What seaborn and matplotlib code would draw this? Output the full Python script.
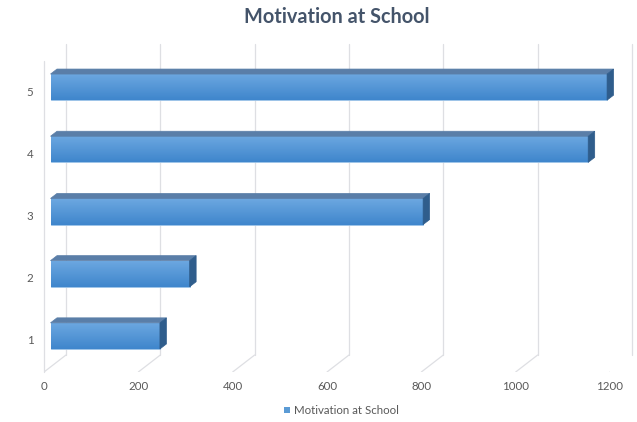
import numpy as np
import pandas as pd
import matplotlib
matplotlib.use("Agg")
import matplotlib.pyplot as plt
import matplotlib.transforms as mtransforms
from matplotlib.patches import Polygon, Rectangle
from matplotlib.colors import LinearSegmentedColormap
import seaborn as sns

# Survey data
levels = ["1", "2", "3", "4", "5"]
counts = [232, 295, 790, 1140, 1180]
series_name = "Motivation at School"
x_ticks = [0, 200, 400, 600, 800, 1000, 1200]

sns.set_theme(style="white")
plt.rcParams["font.family"] = ["Lato", "DejaVu Sans"]

W, H, DPI = 637, 422, 100
fig = plt.figure(figsize=(W / DPI, H / DPI), dpi=DPI)
fig.patch.set_facecolor("white")

# Front plane of the 3-D box, in pixels
left, right, top, bottom = 44, 610, 61, 372
ax = fig.add_axes([left / W, (H - bottom) / H, (right - left) / W, (bottom - top) / H])
ax.set_facecolor("none")

# Depth offsets (pixels): back wall, bar front face, bar depth
BACK_DX, BACK_DY = 22, 17
BAR_DX, BAR_DY = 6.5, 5.0
DEPTH_DX, DEPTH_DY = 6.5, 5.0

df = pd.DataFrame({"level": levels, "count": counts})
order = levels[::-1]
sns.barplot(data=df, x="count", y="level", order=order, orient="h",
            color="#5B9BD5", width=0.42, saturation=1, ax=ax, zorder=3)

ax.set_xlim(0, 1200)
ax.set_ylim(len(levels) - 0.5, -0.5)
for s in ax.spines.values():
    s.set_visible(False)
ax.set_xlabel("")
ax.set_ylabel("")
ax.tick_params(length=0)
ax.set_xticks([])
ax.set_yticks([])

back = mtransforms.offset_copy(ax.transData, fig=fig, x=BACK_DX, y=BACK_DY, units="dots")
barT = mtransforms.offset_copy(ax.transData, fig=fig, x=BAR_DX, y=BAR_DY, units="dots")

grid_col = "#DEDFE3"
y_lo, y_hi = len(levels) - 0.5, -0.5
# Back-wall gridlines and floor diagonals
for t in x_ticks:
    ax.plot([t, t], [y_lo, y_hi], color=grid_col, lw=0.9, transform=back, zorder=1, clip_on=False)
    p0 = ax.transData.transform((t, y_lo))
    p1 = back.transform((t, y_lo))
    ax.add_line(plt.Line2D([p0[0], p1[0]], [p0[1], p1[1]], color=grid_col, lw=0.9,
                           transform=None, zorder=1))
# Left wall edge
ax.plot([0, 0], [y_lo, y_hi], color=grid_col, lw=0.9, zorder=1, clip_on=False)

# Tick labels
tick_col = "#595959"
for t in x_ticks:
    px, py = ax.transData.transform((t, y_lo))
    fig.text(px / W, (py - 14) / H, f"{t}", ha="center", va="center",
             fontsize=8.3, color=tick_col)
for i, lab in enumerate(order):
    px, py = ax.transData.transform((0, i))
    fig.text((px - 14) / W, py / H, lab, ha="center", va="center",
             fontsize=8.3, color=tick_col)

# 3-D bar faces
grad = LinearSegmentedColormap.from_list("bar", ["#3F86CC", "#6DA8E1"])
gimg = np.linspace(0, 1, 64).reshape(-1, 1)
for patch in list(ax.patches):
    x0, y0 = patch.get_x(), patch.get_y()
    w, h = patch.get_width(), patch.get_height()
    patch.set_transform(barT)
    patch.set_edgecolor("#9CC3E8")
    patch.set_linewidth(0.6)
    im = ax.imshow(gimg, cmap=grad, extent=[x0, x0 + w, y0 + h, y0], origin="lower",
                   aspect="auto", transform=barT, zorder=3.5, interpolation="bilinear")
    im.set_clip_path(patch)
    # front-face corners in display pixels
    tl = barT.transform((x0, y0))
    tr = barT.transform((x0 + w, y0))
    br = barT.transform((x0 + w, y0 + h))
    d = np.array([DEPTH_DX, DEPTH_DY])
    top_face = Polygon([tl, tr, tr + d, tl + d], closed=True, transform=None,
                       facecolor="#5A7EA8", edgecolor="#5A7EA8", lw=0.5, zorder=4)
    side_face = Polygon([tr, br, br + d, tr + d], closed=True, transform=None,
                        facecolor="#2F5D8C", edgecolor="#2F5D8C", lw=0.5, zorder=4)
    fig.add_artist(top_face)
    fig.add_artist(side_face)
ax.set_xlim(0, 1200)
ax.set_ylim(len(levels) - 0.5, -0.5)

# Title
fig.text(337 / W, 1 - 17 / H, series_name, ha="center", va="center",
         fontsize=14.3, fontweight="bold", color="#44546A")

# Legend
fig.add_artist(Rectangle((284 / W, 1 - 413 / H), 6 / W, 6 / H, transform=fig.transFigure,
                         facecolor="#5B9BD5", edgecolor="none"))
fig.text(294 / W, 1 - 410 / H, series_name, ha="left", va="center",
         fontsize=8.3, color=tick_col)

fig.savefig("out.png", dpi=DPI)
